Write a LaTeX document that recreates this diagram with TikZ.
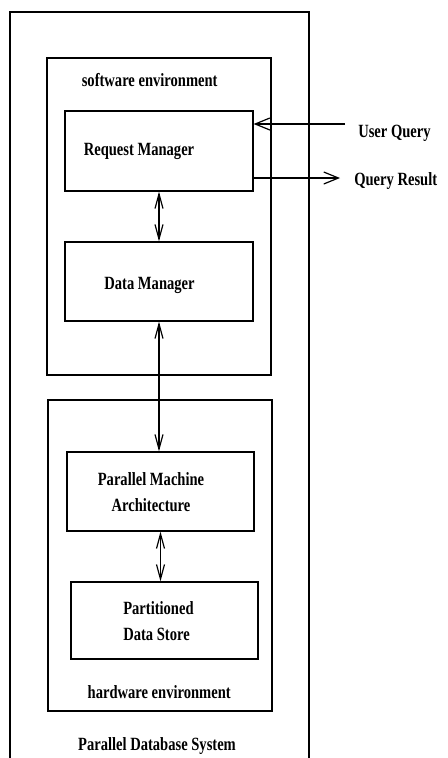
\documentclass[tikz,border=0pt]{standalone}
\usepackage{fontspec}
\setmainfont{Liberation Serif}[FakeStretch=0.78]
\usetikzlibrary{arrows.meta}
\tikzset{
  box/.style={draw, line width=0.9pt, inner sep=0pt},
  lbl/.style={font=\bfseries\fontsize{14}{19.5}\selectfont, inner sep=0pt},
  vtip/.style={{Straight Barb[length=11pt,width=6pt]}-{Straight Barb[length=11pt,width=6pt]}, line width=0.9pt},
  htip/.style={-{Straight Barb[length=11pt,width=9pt]}, line width=0.9pt}
}
\begin{document}
\begin{tikzpicture}[x=0.75pt,y=-0.75pt]
  \useasboundingbox (0,0) rectangle (447,758);
  % system frame, open at the bottom
  \draw[line width=0.9pt] (10,758) |- (309,12) -- (309,758);

  % environments
  \node[box, minimum width=168pt, minimum height=237.75pt] (soft) at (159,216.5) {};
  \node[box, minimum width=168pt, minimum height=233.25pt] (hard) at (160,555.5) {};

  % components
  \node[box, minimum width=141pt, minimum height=60pt] (rm) at (159,151) {};
  \node[box, minimum width=141pt, minimum height=59.25pt] (dm) at (159,281.5) {};
  \node[box, minimum width=140.25pt, minimum height=59.25pt] (pma) at (160.5,491.5) {};
  \node[box, minimum width=140.25pt, minimum height=57.75pt] (pds) at (164.5,620.5) {};

  \node[lbl, anchor=base] (softlbl) at (149.7,86) {software environment};
  \node[lbl, anchor=base] (rmlbl) at (139,155) {Request Manager};
  \node[lbl, anchor=base] (dmlbl) at (149.5,289) {Data Manager};
  \node[lbl, align=center, anchor=north] (pmalbl) at (151,472.5) {Parallel Machine\\Architecture};
  \node[lbl, align=left, anchor=north west] (pdslbl) at (123,601.5) {Partitioned\\Data Store};
  \node[lbl, anchor=base] (hardlbl) at (159.2,698) {hardware environment};
  \node[lbl, anchor=base] (syslbl) at (157,750) {Parallel Database System};

  % outside world
  \node[lbl, anchor=base west] (uqlbl) at (358,137) {User Query};
  \node[lbl, anchor=base west] (qrlbl) at (354,185) {Query Result};
  \coordinate (uqend) at (345,124);
  \coordinate (qrend) at (340,178);

  \draw[htip] (uqend) -- (uqend -| rm.east);
  \draw[htip] (rm.east |- qrend) -- (qrend);
  \draw[vtip] (rm.south) -- (dm.north);
  \draw[vtip] (dm.south) -- (dm.south |- pma.north);
  \draw[vtip] (pma.south) -- (pma.south |- pds.north);
\end{tikzpicture}
\end{document}
